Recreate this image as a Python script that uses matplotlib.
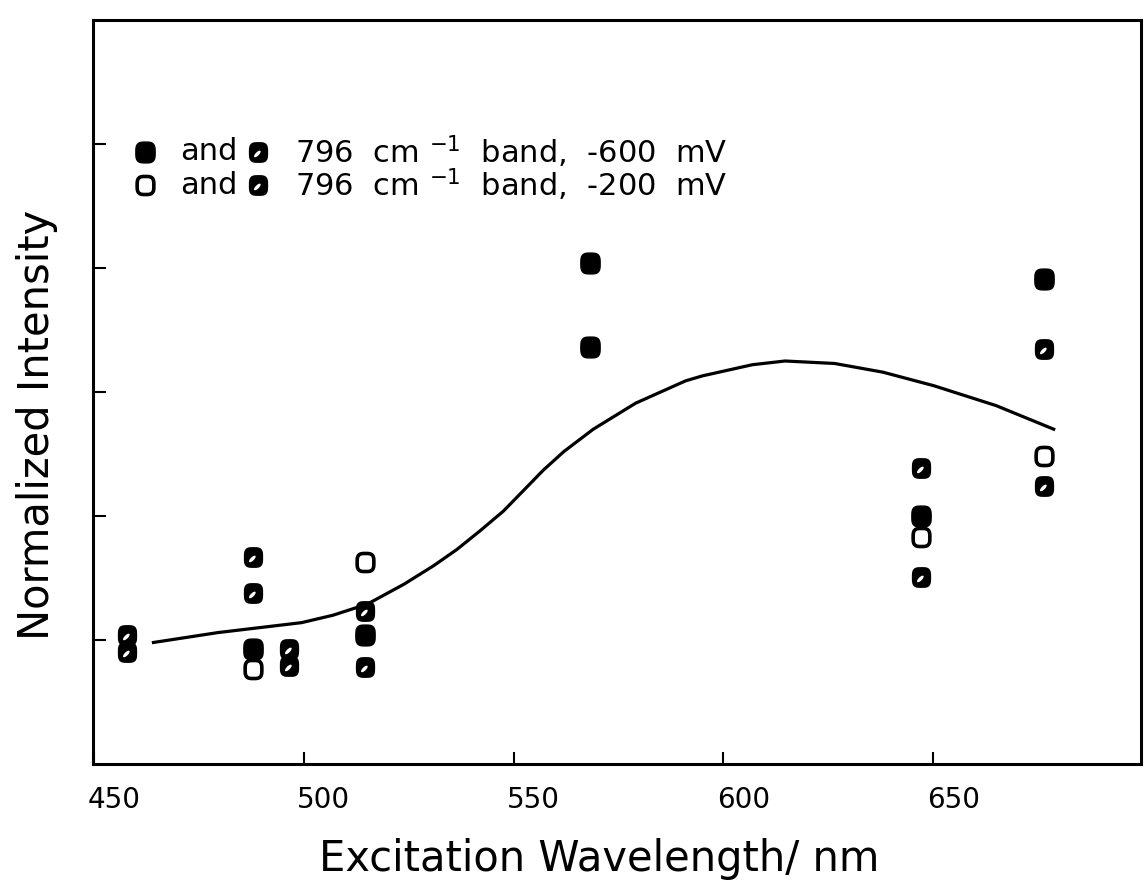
import numpy as np
import matplotlib.pyplot as plt
import matplotlib.transforms as mtransforms
from matplotlib.path import Path

# excitation lines (nm) and normalized intensities
# filled: 796 cm-1 band at -600 mV
wl_fill = [488.0, 514.5, 568.2, 568.2, 647.1, 676.4]
int_fill = [0.93, 1.04, 4.04, 3.36, 2.00, 3.91]

# open: 796 cm-1 band at -200 mV
wl_open = [488.0, 514.5, 647.1, 676.4]
int_open = [0.77, 1.63, 1.83, 2.48]

# second marker type, -600 mV
wl_half600 = [457.9, 488.0, 496.5, 514.5, 647.1, 676.4]
int_half600 = [1.04, 1.67, 0.93, 1.23, 2.39, 3.35]

# second marker type, -200 mV
wl_half200 = [457.9, 488.0, 496.5, 514.5, 647.1, 676.4]
int_half200 = [0.90, 1.38, 0.79, 0.78, 1.51, 2.24]

# smooth profile curve
curve_wl = [464.2, 479.6, 499.5, 507.0, 515.2, 523.9, 531.0, 536.5, 542.0, 547.6, 552.5, 557.1,
            562.0, 569.0, 579.1, 591.0, 595.0, 606.9, 614.7, 626.5, 638.0, 650.2, 665.0, 678.7]
curve_int = [0.98, 1.06, 1.14, 1.20, 1.29, 1.45, 1.60, 1.73, 1.88, 2.04, 2.21, 2.37,
             2.52, 2.70, 2.91, 3.09, 3.13, 3.22, 3.25, 3.23, 3.16, 3.05, 2.89, 2.70]

xticks = [450, 500, 550, 600, 650]


# rounded-square plotter symbols
def blob(hole=False):
    t = np.linspace(0, 2 * np.pi, 60, endpoint=False)
    c, s = np.cos(t), np.sin(t)
    x = np.sign(c) * np.abs(c) ** 0.6
    y = np.sign(s) * np.abs(s) ** 0.6 * 1.08
    verts = list(zip(x, y)) + [(x[0], y[0])]
    codes = [Path.MOVETO] + [Path.LINETO] * (len(t) - 1) + [Path.CLOSEPOLY]
    if hole:
        a, b = 0.45, 0.18
        hx = a * c * np.cos(np.pi / 4) - b * s * np.sin(np.pi / 4) - 0.12
        hy = a * c * np.sin(np.pi / 4) + b * s * np.cos(np.pi / 4) - 0.15
        hv = list(zip(hx[::-1], hy[::-1]))
        verts += hv + [hv[0]]
        codes += [Path.MOVETO] + [Path.LINETO] * (len(t) - 1) + [Path.CLOSEPOLY]
    return Path(verts, codes)


solid = blob()
half = blob(hole=True)

fig = plt.figure(figsize=(11.44, 8.82), dpi=100)
ax = fig.add_axes([93/1144, 1 - 764/882, 1048/1144, 744/882])

ax.plot(curve_wl, curve_int, color='black', lw=2.3)

ms = 15
ax.plot(wl_fill, int_fill, ls='none', marker=solid, ms=ms, color='black')
ax.plot(wl_open, int_open, ls='none', marker=solid, ms=ms - 2, mfc='white', mec='black', mew=2.6)
ax.plot(wl_half600, int_half600, ls='none', marker=half, ms=ms, color='black', mew=0)
ax.plot(wl_half200, int_half200, ls='none', marker=half, ms=ms, color='black', mew=0)

ax.set_xlim(449.8, 699.5)
ax.set_ylim(0, 6)
ax.set_xticks(xticks)
ax.set_yticks([1, 2, 3, 4, 5])
ax.set_yticklabels([])
ax.tick_params(direction='in', length=9, width=1.5, top=False, right=False)
ax.tick_params(axis='x', labelsize=20, pad=16)
offset = mtransforms.ScaledTranslation(20/100, 0, fig.dpi_scale_trans)
for lab in ax.get_xticklabels():
    lab.set_transform(lab.get_transform() + offset)
for s in ax.spines.values():
    s.set_linewidth(2.2)

ax.set_xlabel('Excitation Wavelength/ nm', fontsize=30)
ax.xaxis.set_label_coords(0.483, -0.100)
ax.set_ylabel('Normalized Intensity', fontsize=30)
ax.yaxis.set_label_coords(-0.033, 0.456)

# key in the upper left
rows = [(0.8226, 'fill', '-600'), (0.778, 'open', '-200')]
for yk, kind, mv in rows:
    if kind == 'fill':
        ax.plot([0.050], [yk], ls='none', marker=solid, ms=ms, color='black',
                transform=ax.transAxes)
    else:
        ax.plot([0.050], [yk], ls='none', marker=solid, ms=ms - 2, mfc='white', mec='black',
                mew=2.6, transform=ax.transAxes)
    ax.text(0.083, yk, 'and', fontsize=22, va='center', transform=ax.transAxes)
    ax.plot([0.157], [yk], ls='none', marker=half, ms=ms, color='black', mew=0,
            transform=ax.transAxes)
    ax.text(0.193, yk, '796  cm $^{-1}$  band,  %s  mV' % mv, fontsize=22, va='center',
            transform=ax.transAxes)

fig.savefig('out.png', dpi=100)
